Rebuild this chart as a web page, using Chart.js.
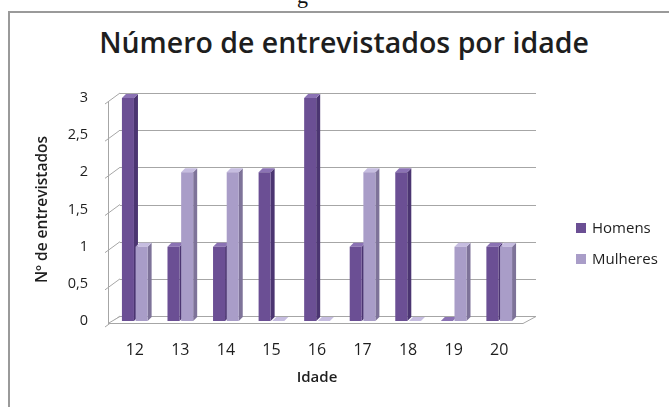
<!DOCTYPE html>
<html>
<head>
<meta charset="utf-8">
<script src="https://cdn.jsdelivr.net/npm/chart.js@4.4.1/dist/chart.umd.min.js"></script>
<style>
  html, body { margin: 0; padding: 0; background: #fff; }
  body { width: 669px; height: 407px; position: relative; overflow: hidden; font-family: "Open Sans", sans-serif; color: #1e1e1e; }
  #frame { position: absolute; left: 8px; top: 11px; right: -4px; bottom: -4px; border-left: 2px solid #9a9a9a; border-top: 2px solid #9a9a9a; }
  #cut { position: absolute; left: 297px; top: -17px; font: 22px "Liberation Serif", serif; color: #111; }
  #title { position: absolute; left: 44px; width: 600px; top: 27px; line-height: 30px; text-align: center; font-size: 28.5px; font-weight: 600; }
  #chart { position: absolute; left: 0; top: 0; }
  .leg { position: absolute; left: 576px; font-size: 15px; line-height: 18px; }
  .leg i { display: inline-block; width: 10px; height: 10px; margin-right: 6px; vertical-align: 0px; }
</style>
</head>
<body>
<div id="cut">g</div>
<div id="frame"></div>
<div id="title">Número de entrevistados por idade</div>
<canvas id="chart" width="669" height="407"></canvas>
<div class="leg" style="top:218px"><i style="background:#6b4f94"></i>Homens</div>
<div class="leg" style="top:249px"><i style="background:#a99dc8"></i>Mulheres</div>
<script>
// dados
const idades   = ["12", "13", "14", "15", "16", "17", "18", "19", "20"];
const homens   = [3, 1, 1, 2, 3, 1, 2, 0, 1];
const mulheres = [1, 2, 2, 0, 0, 2, 0, 1, 1];
const yMax  = 3;
const yStep = 0.5;

// cores: frente, lado, topo
const corHomens   = ["#6b4f94", "#4b3571", "#8b72b4"];
const corMulheres = ["#a99dc8", "#7e7399", "#c6bde0"];

// efeito 3D (parede, chão e lados das barras)
const depth3d = {
  id: "depth3d",
  beforeDatasetsDraw(chart) {
    const ctx = chart.ctx;
    const { left, right } = chart.chartArea;
    const y = chart.scales.y;
    const y0 = y.getPixelForValue(0);
    ctx.save();
    ctx.strokeStyle = "#a6a6a6";
    ctx.lineWidth = 1;

    // linhas de grade na parede do fundo
    y.ticks.forEach(t => {
      const py = Math.round(y.getPixelForValue(t.value) - 5) + 0.5;
      if (t.value > 0) {
        ctx.beginPath();
        ctx.moveTo(left + 8, py);
        ctx.lineTo(right + 14, py);
        ctx.stroke();
      }
      // marcas inclinadas no eixo
      const pf = y.getPixelForValue(t.value);
      ctx.beginPath();
      ctx.moveTo(left - 7, pf + 6);
      ctx.lineTo(left + 8, pf - 5);
      ctx.stroke();
    });

    // eixo vertical da frente
    ctx.beginPath();
    ctx.moveTo(left - 3.5, y.getPixelForValue(yMax) + 3);
    ctx.lineTo(left - 3.5, y0 + 2);
    ctx.stroke();

    // chão
    ctx.beginPath();
    ctx.moveTo(left - 4, y0 + 2.5);
    ctx.lineTo(right + 1, y0 + 2.5);
    ctx.lineTo(right + 14, y0 - 4.5);
    ctx.lineTo(left + 8, y0 - 4.5);
    ctx.closePath();
    ctx.fillStyle = "#fff";
    ctx.fill();
    ctx.stroke();

    // lados e topos das barras
    const d = 4;
    chart.data.datasets.forEach((ds, i) => {
      const meta = chart.getDatasetMeta(i);
      meta.data.forEach(el => {
        const { x, y: top, base, width } = el.getProps(["x", "y", "base", "width"], true);
        const x1 = x - width / 2, x2 = x + width / 2;
        ctx.fillStyle = ds.sideColor;
        ctx.beginPath();
        ctx.moveTo(x2, top);
        ctx.lineTo(x2 + d, top - d);
        ctx.lineTo(x2 + d, base - d);
        ctx.lineTo(x2, base);
        ctx.closePath();
        ctx.fill();
        ctx.fillStyle = ds.topColor;
        ctx.beginPath();
        ctx.moveTo(x1, top);
        ctx.lineTo(x2, top);
        ctx.lineTo(x2 + d, top - d);
        ctx.lineTo(x1 + d, top - d);
        ctx.closePath();
        ctx.fill();
      });
    });
    ctx.restore();
  }
};

const fmt = v => String(v).replace(".", ",");

new Chart(document.getElementById("chart"), {
  type: "bar",
  data: {
    labels: idades,
    datasets: [
      { label: "Homens", data: homens, backgroundColor: corHomens[0], sideColor: corHomens[1], topColor: corHomens[2],
        borderWidth: 0, categoryPercentage: 0.6, barPercentage: 0.88 },
      { label: "Mulheres", data: mulheres, backgroundColor: corMulheres[0], sideColor: corMulheres[1], topColor: corMulheres[2],
        borderWidth: 0, categoryPercentage: 0.6, barPercentage: 0.88 }
    ]
  },
  options: {
    responsive: false,
    animation: false,
    devicePixelRatio: 1,
    layout: { padding: { left: 0, right: 147, top: 98, bottom: 0 } },
    plugins: { legend: { display: false }, title: { display: false }, tooltip: { enabled: false } },
    scales: {
      y: {
        min: 0, max: yMax,
        grid: { display: false },
        border: { display: false },
        ticks: { stepSize: yStep, callback: fmt, color: "#1e1e1e", font: { family: "Open Sans", size: 14.5 }, padding: 16 },
        title: { display: true, text: "Nº de entrevistados", color: "#1e1e1e", font: { family: "Open Sans", size: 15.5, weight: "600" }, padding: { top: 33 } },
        afterFit: s => { s.width = 112; }
      },
      x: {
        grid: { display: false },
        border: { display: false },
        ticks: { color: "#1e1e1e", font: { family: "Open Sans", size: 16 }, padding: 12 },
        title: { display: true, text: "Idade", color: "#1e1e1e", font: { family: "Open Sans", size: 15, weight: "600" }, padding: { bottom: 20 } },
        afterFit: s => { s.height = 86; }
      }
    }
  },
  plugins: [depth3d]
});
</script>
</body>
</html>
